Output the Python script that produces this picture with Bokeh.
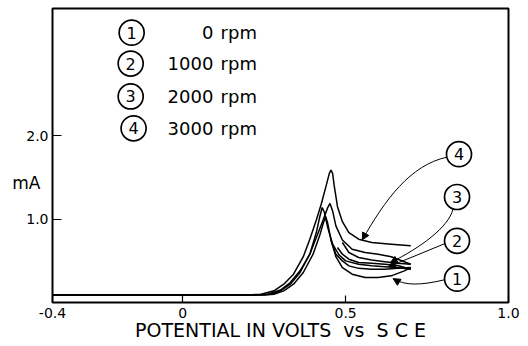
from bokeh.plotting import figure
from bokeh.models import (Range1d, FixedTicker, LinearAxis, Arrow, NormalHead,
                          ColumnDataSource)
from bokeh.core.properties import value
from bokeh.embed import file_html
from bokeh.resources import INLINE

# Cyclic voltammograms at four rotation rates (potential in V vs SCE, current in mA)
rotation_speeds = ["0", "1000", "2000", "3000"]
curve_numbers = ["1", "2", "3", "4"]

# 0 rpm
fwd_v_0 = [-0.40, 0.25, 0.28, 0.31, 0.34, 0.37, 0.40, 0.42, 0.432, 0.439, 0.445,
           0.455, 0.47, 0.49, 0.52, 0.56, 0.60, 0.64, 0.68, 0.70]
fwd_i_0 = [0.09, 0.09, 0.10, 0.14, 0.22, 0.36, 0.58, 0.80, 0.96, 1.03, 0.95,
           0.75, 0.55, 0.42, 0.34, 0.30, 0.30, 0.32, 0.38, 0.42]
rev_v_0 = [0.70, 0.66, 0.62, 0.58, 0.54, 0.51, 0.49, 0.47, 0.455]
rev_i_0 = [0.42, 0.41, 0.40, 0.40, 0.41, 0.44, 0.50, 0.58, 0.75]

# 1000 rpm
fwd_v_1 = [-0.40, 0.23, 0.27, 0.30, 0.33, 0.36, 0.39, 0.41, 0.42, 0.428, 0.435,
           0.445, 0.46, 0.48, 0.50, 0.54, 0.58, 0.62, 0.66, 0.70]
fwd_i_1 = [0.09, 0.09, 0.10, 0.14, 0.22, 0.36, 0.58, 0.84, 1.02, 1.14, 1.08,
           0.90, 0.70, 0.57, 0.50, 0.46, 0.44, 0.43, 0.42, 0.40]
rev_v_1 = [0.70, 0.66, 0.62, 0.58, 0.54, 0.51, 0.49, 0.475]
rev_i_1 = [0.40, 0.445, 0.46, 0.47, 0.48, 0.52, 0.58, 0.66]

# 2000 rpm
fwd_v_2 = [-0.40, 0.22, 0.26, 0.30, 0.33, 0.36, 0.39, 0.41, 0.43, 0.445, 0.452,
           0.46, 0.47, 0.49, 0.52, 0.56, 0.60, 0.64, 0.68, 0.70]
fwd_i_2 = [0.09, 0.09, 0.10, 0.15, 0.24, 0.38, 0.58, 0.78, 0.98, 1.14, 1.19,
           1.10, 0.92, 0.75, 0.64, 0.60, 0.58, 0.55, 0.49, 0.46]
rev_v_2 = [0.70, 0.66, 0.62, 0.58, 0.54, 0.51, 0.49]
rev_i_2 = [0.46, 0.47, 0.49, 0.51, 0.54, 0.60, 0.72]

# 3000 rpm
fwd_v_3 = [-0.40, 0.20, 0.24, 0.28, 0.31, 0.34, 0.37, 0.39, 0.41, 0.425, 0.44,
           0.45, 0.455, 0.46, 0.465, 0.475, 0.49, 0.51, 0.54, 0.58, 0.64, 0.70]
fwd_i_3 = [0.09, 0.09, 0.10, 0.14, 0.22, 0.34, 0.55, 0.76, 0.99, 1.18, 1.40,
           1.55, 1.59, 1.55, 1.40, 1.15, 0.97, 0.84, 0.76, 0.72, 0.70, 0.68]

forward = [(fwd_v_0, fwd_i_0), (fwd_v_1, fwd_i_1), (fwd_v_2, fwd_i_2), (fwd_v_3, fwd_i_3)]
reverse = [(rev_v_0, rev_i_0), (rev_v_1, rev_i_1), (rev_v_2, rev_i_2)]

x_ticks = [-0.4, 0, 0.5, 1.0]
x_tick_labels = ["-0.4", "0", "0.5", "1.0"]
y_ticks = [1.0, 2.0]
y_tick_labels = ["1.0", "2.0"]
y_unit_pos = 1.44

FONT = "DejaVu Sans"

p = figure(frame_width=456, frame_height=294, output_backend="svg",
           toolbar_location=None,
           x_range=Range1d(-0.4, 1.0), y_range=Range1d(0, 3.53),
           min_border_left=52, min_border_right=20, min_border_top=8,
           min_border_bottom=0)
p.background_fill_color = "white"
p.border_fill_color = "white"
p.grid.visible = False
p.outline_line_color = "black"
p.outline_line_width = 2

p.xaxis.ticker = FixedTicker(ticks=x_ticks)
p.xaxis.major_label_overrides = dict(zip(x_ticks, x_tick_labels))
p.yaxis.ticker = FixedTicker(ticks=y_ticks)
p.yaxis.major_label_overrides = dict(zip(y_ticks, y_tick_labels))
for ax in (p.xaxis, p.yaxis):
    ax.axis_line_color = None
    ax.minor_tick_line_color = None
    ax.major_tick_line_color = "black"
    ax.major_tick_line_width = 1.2
    ax.major_label_text_font = FONT
    ax.major_label_text_font_size = "14px"
    ax.major_label_text_color = "black"
p.xaxis.major_tick_in = 7
p.xaxis.major_tick_out = 0
p.xaxis.major_label_standoff = 5
p.yaxis.major_tick_in = 9
p.yaxis.major_tick_out = 0
p.yaxis.major_label_standoff = 4

p.xaxis.axis_label = "POTENTIAL IN VOLTS\u00a0\u00a0vs\u00a0 S\u00a0C\u00a0E"
p.xaxis.axis_label_text_font = FONT
p.xaxis.axis_label_text_font_size = "19px"
p.xaxis.axis_label_text_font_style = "normal"
p.xaxis.axis_label_text_color = "black"
p.xaxis.axis_label_standoff = -2

# current unit, set horizontally beside the current ticks
unit_axis = LinearAxis(ticker=FixedTicker(ticks=[y_unit_pos]),
                       major_label_overrides={y_unit_pos: "mA"},
                       axis_line_color=None, major_tick_line_color=None,
                       minor_tick_line_color=None, major_tick_in=0, major_tick_out=0,
                       major_label_standoff=-17, major_label_text_font=FONT,
                       major_label_text_font_size="17px",
                       major_label_text_color="black")
p.add_layout(unit_axis, "left")

# voltammogram traces
for v, i in forward:
    p.line(v, i, line_color="black", line_width=1.5)
for v, i in reverse:
    p.line(v, i, line_color="black", line_width=1.5)

# leader lines from the circled numbers to their traces
lead_x0 = [0.811, 0.830, 0.810, 0.805]
lead_y0 = [1.745, 1.123, 0.716, 0.274]
lead_cx0 = [0.698, 0.815, 0.750, 0.728]
lead_cy0 = [1.650, 0.896, 0.620, 0.202]
lead_cx1 = [0.621, 0.728, 0.690, 0.682]
lead_cy1 = [1.232, 0.657, 0.520, 0.202]
lead_x1 = [0.551, 0.637, 0.631, 0.646]
lead_y1 = [0.752, 0.477, 0.430, 0.286]
p.bezier(x0=lead_x0, y0=lead_y0, x1=lead_x1, y1=lead_y1,
         cx0=lead_cx0, cy0=lead_cy0, cx1=lead_cx1, cy1=lead_cy1,
         line_color="black", line_width=1)
for k in range(4):
    dx = lead_x1[k] - lead_cx1[k]
    dy = lead_y1[k] - lead_cy1[k]
    p.add_layout(Arrow(end=NormalHead(size=7, fill_color="black", line_color="black"),
                       x_start=lead_x1[k] - 0.15 * dx, y_start=lead_y1[k] - 0.15 * dy,
                       x_end=lead_x1[k], y_end=lead_y1[k], line_width=1))

# circled numbers at the traces
tag_v = [0.842, 0.842, 0.842, 0.848]
tag_i = [0.286, 0.740, 1.267, 1.781]
tags = ColumnDataSource(dict(x=tag_v, y=tag_i, t=curve_numbers))
p.scatter("x", "y", source=tags, marker="circle", size=25, fill_color="white",
          line_color="black", line_width=1.7)
p.text("x", "y", text="t", source=tags, text_align="center", text_baseline="middle",
       text_font=value(FONT), text_font_size="16px", text_color="black")

# key of rotation rates
key_v = [-0.157, -0.160, -0.160, -0.151]
key_i = [3.240, 2.869, 2.474, 2.091]
key = ColumnDataSource(dict(x=key_v, y=key_i, t=curve_numbers,
                            nx=[0.094] * 4, rx=[0.116] * 4,
                            speed=rotation_speeds, unit=["rpm"] * 4))
p.scatter("x", "y", source=key, marker="circle", size=25, fill_color="white",
          line_color="black", line_width=1.7)
p.text("x", "y", text="t", source=key, text_align="center", text_baseline="middle",
       text_font=value(FONT), text_font_size="16px", text_color="black")
p.text("nx", "y", text="speed", source=key, text_align="right", text_baseline="middle",
       text_font=value(FONT), text_font_size="18px", text_color="black")
p.text("rx", "y", text="unit", source=key, text_align="left", text_baseline="middle",
       text_font=value(FONT), text_font_size="18px", text_color="black")

open("out.html", "w").write(file_html(p, INLINE))
